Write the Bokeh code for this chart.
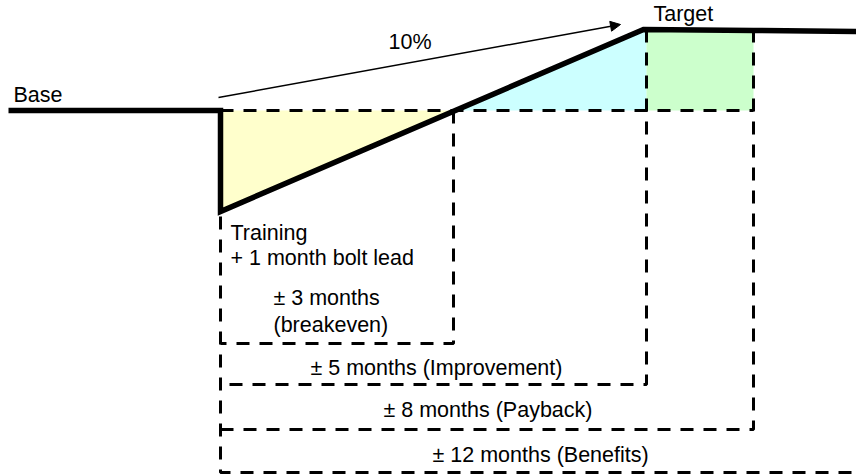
from bokeh.plotting import figure
from bokeh.models import Range1d, ColumnDataSource, Arrow, NormalHead
from bokeh.core.properties import value
from bokeh.embed import file_html
from bokeh.resources import INLINE

# Performance profile (diagram units, y grows downward)
profile_x = [8, 220, 220, 643, 753, 856]
profile_y = [110, 110, 211, 29, 30, 31]

base_y = 110
target_y = 29
trough_y = 211
start_x = 220
breakeven_x = 453
improve_x = 646
payback_x = 753
right_x = 856

# Bracket depths for each milestone
bracket_y = [343, 384, 429, 472]

# Labels
label_text = ["Base", "10%", "Target", "Training", "+ 1 month bolt lead",
              "\u00b1 3 months", "(breakeven)",
              "\u00b1 5 months (Improvement)", "\u00b1 8 months (Payback)",
              "\u00b1 12 months (Benefits)"]
label_x = [13, 388, 653, 230, 230, 273, 273, 310, 383, 432]
label_y = [94, 41, 13, 232, 257, 297, 324, 367, 409, 454]

p = figure(width=856, height=476, x_range=Range1d(0, 856), y_range=Range1d(476, 0),
           x_axis_type=None, y_axis_type=None, toolbar_location=None,
           output_backend="svg", min_border=0)
p.grid.visible = False
p.outline_line_color = None
p.background_fill_color = "white"

# Shaded areas: loss while training, recovery, gain at target
p.patch([start_x, start_x, breakeven_x], [base_y, trough_y, base_y],
        fill_color="#FFFFCC", line_color=None)
p.patch([breakeven_x, improve_x, improve_x], [base_y, target_y, base_y],
        fill_color="#CCFFFF", line_color=None)
p.patch([improve_x, payback_x, payback_x, improve_x], [target_y, target_y, base_y, base_y],
        fill_color="#CCFFCC", line_color=None)

dash = dict(line_color="black", line_width=3, line_dash="13 10")

# Base reference level
p.line([start_x, payback_x], [base_y, base_y], **dash)

# Milestone brackets
p.line([breakeven_x, breakeven_x, start_x], [base_y, bracket_y[0], bracket_y[0]], **dash)
p.line([improve_x, improve_x, start_x], [target_y, bracket_y[1], bracket_y[1]], **dash)
p.line([payback_x, payback_x, start_x], [target_y, bracket_y[2], bracket_y[2]], **dash)
p.line([start_x, start_x, right_x], [216, bracket_y[3], bracket_y[3]], **dash)

# Performance profile
p.line(profile_x, profile_y, line_color="black", line_width=5.5, line_join="miter")

# Improvement arrow
p.add_layout(Arrow(end=NormalHead(size=10, line_color="black", fill_color="black", line_width=1),
                   x_start=218, y_start=97, x_end=620, y_end=24,
                   line_color="black", line_width=1.5))

src = ColumnDataSource(dict(x=label_x, y=label_y, t=label_text))
p.text(x="x", y="y", text="t", source=src, text_font=value("Liberation Sans"),
       text_font_size="21.5px", text_color="black", text_baseline="alphabetic",
       text_align="left")

open("out.html", "w").write(file_html(p, INLINE))
